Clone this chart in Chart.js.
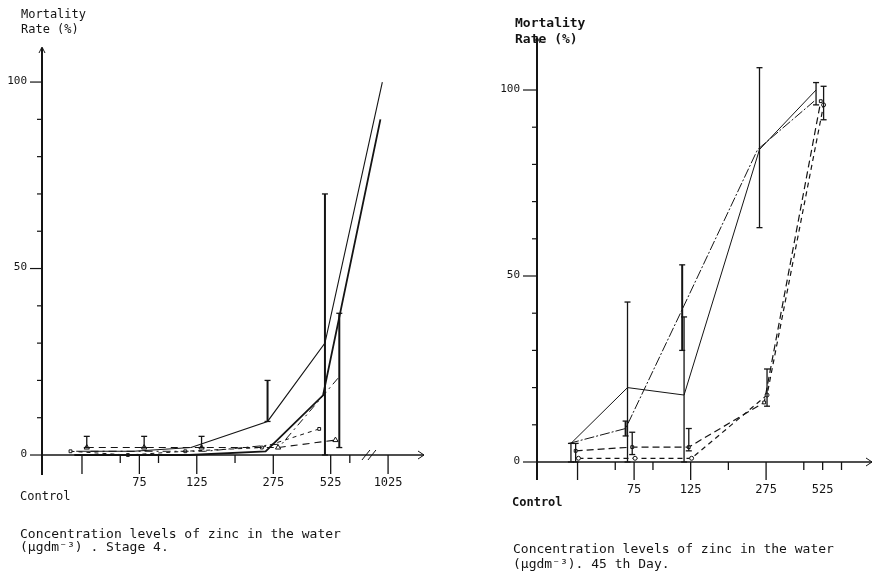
<!DOCTYPE html>
<html><head><meta charset="utf-8">
<script src="https://cdn.jsdelivr.net/npm/chart.js@4.4.1/dist/chart.umd.min.js"></script>
<style>
html,body{margin:0;padding:0;background:#fff;}
body{width:878px;height:575px;position:relative;overflow:hidden;}
.panel{position:absolute;top:0;height:575px;}
</style></head><body>
<div class="panel" style="left:0;width:440px"><canvas id="stage4"></canvas></div>
<div class="panel" style="left:440px;width:438px"><canvas id="day45"></canvas></div>
<script>
// ---------- data (mortality %) ----------
const stage4Categories = ['Control', '75', '125', '275', '525', '1025'];
const stage4SolidA   = [1, 1, 2, 9, 30, 100];
const stage4SolidB   = [0, 0, 0, 1, 16, 90];
const stage4DashedC  = [2, 2, 2, 2, 4, null];
const stage4DashDotD = [1, 1, 1, 3, 21, null];
const stage4DashedE  = [1, 0, 1, 2, 7, null];
const stage4ErrA = [null, null, null, [9, 20], [0, 70], null];
const stage4ErrC = [[2, 5], [2, 5], [2, 5], null, null, null];
const stage4ErrD = [null, null, null, null, [2, 38], null];

const day45Categories = ['Control', '75', '125', '275', '525'];
const day45SolidA  = [5, 20, 18, 84, 100];
const day45SolidB  = [5, 9, 41, 84, 97];
const day45DashedC = [3, 4, 4, 16, 97];
const day45DashedD = [1, 1, 1, 18, 96];
const day45ErrA = [[0, 5], [0, 43], [0, 39], [63, 106], [96, 102]];
const day45ErrB = [null, [7, 11], [30, 53], null, null];
const day45ErrC = [[0, 5], [2, 8], [3, 9], null, null];
const day45ErrD = [null, null, null, [15, 25], [92, 101]];

const mortalityTickLabels = [0, 50, 100];
const yAxisTitle = ['Mortality', 'Rate (%)'];
const stage4Caption = ['Concentration levels of zinc in the water', '(\u00b5gdm\u207b\u00b3) . Stage 4.'];
const day45Caption  = ['Concentration levels of zinc in the water', '(\u00b5gdm\u207b\u00b3). 45 th Day.'];

// ---------- layout / style ----------
const INK = '#141414';
const MONO = '"DejaVu Sans Mono", "Liberation Mono", monospace';
// axis slot of each concentration (broken, non-proportional axis)
const axisSlots = [0, 3, 6, 10, 13, 16];

function makePanel(canvasId, cfg) {
  const datasets = cfg.series.map(s => ({
    label: s.label,
    data: s.values.map((v, i) => v == null ? null : {x: axisSlots[i] + s.offset, y: v}).filter(Boolean),
    borderColor: INK,
    backgroundColor: '#fff',
    borderWidth: s.width || 1,
    borderDash: s.dash || [],
    pointStyle: s.pointStyle || 'circle',
    pointRadius: s.pointRadius || 0,
    pointBorderColor: INK,
    pointBorderWidth: 1,
    pointBackgroundColor: '#fff',
    tension: 0,
    fill: false
  }));

  const plugin = {
    id: 'handAxes_' + canvasId,
    beforeDatasetsDraw(chart) {
      const {ctx, chartArea: ca, scales: {x, y}} = chart;
      const ax = ca.left, y0 = y.getPixelForValue(0);
      ctx.save();
      ctx.strokeStyle = INK; ctx.fillStyle = INK;
      // y axis
      ctx.lineWidth = 2;
      ctx.beginPath(); ctx.moveTo(ax, ca.bottom); ctx.lineTo(ax, ca.top + 1); ctx.stroke();
      ctx.lineWidth = 1;
      ctx.beginPath(); ctx.moveTo(ax - 3, ca.top + 6); ctx.lineTo(ax, ca.top); ctx.lineTo(ax + 3, ca.top + 6); ctx.stroke();
      // y minor ticks every 10
      ctx.lineWidth = 1.2;
      for (let v = 10; v < 100; v += 10) {
        if (v === 50) continue;
        const py = y.getPixelForValue(v);
        ctx.beginPath(); ctx.moveTo(ax - 5, py); ctx.lineTo(ax, py); ctx.stroke();
      }
      // y major ticks + labels
      ctx.font = cfg.yTickFont + ' ' + MONO;
      ctx.textAlign = 'right'; ctx.textBaseline = 'middle';
      mortalityTickLabels.forEach(v => {
        const py = y.getPixelForValue(v);
        ctx.beginPath(); ctx.moveTo(ax - cfg.majorTick, py); ctx.lineTo(ax, py); ctx.stroke();
        ctx.fillText(String(v), ax - cfg.majorTick - 3, py - 1);
      });
      // x axis
      ctx.lineWidth = 1.3;
      ctx.beginPath(); ctx.moveTo(ax, y0); ctx.lineTo(ca.right - 1, y0); ctx.stroke();
      ctx.lineWidth = 1;
      ctx.beginPath(); ctx.moveTo(ca.right - 7, y0 - 4); ctx.lineTo(ca.right - 1, y0); ctx.lineTo(ca.right - 7, y0 + 4); ctx.stroke();
      // x ticks
      ctx.lineWidth = 1.3;
      cfg.longTicks.forEach(u => {
        const px = x.getPixelForValue(u);
        ctx.beginPath(); ctx.moveTo(px, y0); ctx.lineTo(px, y0 + cfg.longTickLen); ctx.stroke();
      });
      cfg.shortTicks.forEach(u => {
        const px = x.getPixelForValue(u);
        ctx.beginPath(); ctx.moveTo(px, y0); ctx.lineTo(px, y0 + 8); ctx.stroke();
      });
      // axis break marks
      if (cfg.breakAt != null) {
        const bx = x.getPixelForValue(cfg.breakAt);
        ctx.lineWidth = 1;
        [-3, 3].forEach(d => {
          ctx.beginPath(); ctx.moveTo(bx + d - 4, y0 + 5); ctx.lineTo(bx + d + 4, y0 - 5); ctx.stroke();
        });
      }
      // category labels
      ctx.font = cfg.xTickFont + ' ' + MONO;
      ctx.textBaseline = 'middle';
      cfg.categories.forEach((c, i) => {
        if (i === 0) {
          ctx.textAlign = 'left';
          ctx.font = cfg.controlFont + ' ' + MONO;
          ctx.fillText(c, cfg.controlX, y0 + cfg.controlDy);
          ctx.font = cfg.xTickFont + ' ' + MONO;
        } else {
          ctx.textAlign = 'center';
          ctx.fillText(c, x.getPixelForValue(axisSlots[i]), y0 + cfg.labelDy);
        }
      });
      // y axis title
      ctx.textAlign = 'left';
      ctx.font = cfg.titleFont + ' ' + MONO;
      yAxisTitle.forEach((t, i) => ctx.fillText(t, cfg.titleX, cfg.titleY + i * cfg.titleGap));
      // caption
      ctx.font = cfg.captionFont + ' ' + MONO;
      cfg.caption.forEach((t, i) => ctx.fillText(t, cfg.captionX, cfg.captionY + i * cfg.captionGap));
      ctx.restore();
    },
    afterDatasetsDraw(chart) {
      const {ctx, scales: {x, y}} = chart;
      ctx.save();
      ctx.strokeStyle = INK;
      cfg.series.forEach(s => {
        if (!s.err) return;
        s.err.forEach((e, i) => {
          if (!e) return;
          const px = x.getPixelForValue(axisSlots[i] + s.offset);
          const lo = y.getPixelForValue(e[0]), hi = y.getPixelForValue(e[1]);
          ctx.lineWidth = s.errWidth || 1.3;
          ctx.beginPath(); ctx.moveTo(px, lo); ctx.lineTo(px, hi); ctx.stroke();
          ctx.lineWidth = 1.3;
          ctx.beginPath(); ctx.moveTo(px - 3, hi); ctx.lineTo(px + 3, hi); ctx.stroke();
          ctx.beginPath(); ctx.moveTo(px - 3, lo); ctx.lineTo(px + 3, lo); ctx.stroke();
        });
      });
      ctx.restore();
    }
  };

  return new Chart(document.getElementById(canvasId), {
    type: 'line',
    data: {datasets},
    options: {
      responsive: true, maintainAspectRatio: false, animation: false,
      layout: {padding: cfg.padding},
      plugins: {legend: {display: false}, tooltip: {enabled: false}},
      scales: {
        x: {type: 'linear', display: false, min: cfg.xMin, max: cfg.xMax},
        y: {type: 'linear', display: false, min: cfg.yMin, max: cfg.yMax}
      }
    },
    plugins: [plugin]
  });
}

// Left panel: Stage 4
makePanel('stage4', {
  categories: stage4Categories,
  padding: {left: 42, right: 15, top: 47, bottom: 100},
  xMin: -2.09, xMax: 17.93, yMin: -5.36, yMax: 109.4,
  longTicks: [0, 3, 6, 10, 13, 16], shortTicks: [2, 4, 8, 14], longTickLen: 19,
  breakAt: 15.0, majorTick: 12,
  yTickFont: '11px', xTickFont: '12px', controlFont: '12px', titleFont: '12px', captionFont: '13px',
  controlX: 20, controlDy: 42, labelDy: 28,
  titleX: 21, titleY: 15, titleGap: 15,
  caption: stage4Caption, captionX: 20, captionY: 535, captionGap: 13,
  series: [
    {label: 'A', values: stage4SolidA, offset: -0.3, width: 1.1, err: stage4ErrA, errWidth: 2},
    {label: 'B', values: stage4SolidB, offset: -0.4, width: 1.8},
    {label: 'C', values: stage4DashedC, offset: 0.25, width: 1.1, dash: [7, 5], pointStyle: 'triangle', pointRadius: 3, err: stage4ErrC},
    {label: 'D', values: stage4DashDotD, offset: 0.45, width: 1, dash: [8, 4, 2, 4], err: stage4ErrD, errWidth: 2},
    {label: 'E', values: stage4DashedE, offset: -0.6, width: 1, dash: [4, 4], pointStyle: 'rect', pointRadius: 2}
  ]
});

// Right panel: 45th day
makePanel('day45', {
  categories: day45Categories,
  padding: {left: 97, right: 1, top: 37, bottom: 95},
  xMin: -2.15, xMax: 15.67, yMin: -4.84, yMax: 114.25,
  longTicks: [0, 3, 6, 10], shortTicks: [2, 4, 8, 12, 13, 14], longTickLen: 18,
  breakAt: null, majorTick: 14,
  yTickFont: '11px', xTickFont: '12px', controlFont: 'bold 12px', titleFont: 'bold 13px', captionFont: '13px',
  controlX: 72, controlDy: 41, labelDy: 28,
  titleX: 75, titleY: 24, titleGap: 16,
  caption: day45Caption, captionX: 73, captionY: 550, captionGap: 15,
  series: [
    {label: 'A', values: day45SolidA, offset: -0.35, width: 1, err: day45ErrA},
    {label: 'B', values: day45SolidB, offset: -0.45, width: 1, dash: [10, 2, 2, 2], err: day45ErrB, errWidth: 2},
    {label: 'C', values: day45DashedC, offset: -0.1, width: 1.2, dash: [7, 4], pointStyle: 'rect', pointRadius: 2, err: day45ErrC},
    {label: 'D', values: day45DashedD, offset: 0.05, width: 1.2, dash: [5, 4], pointRadius: 2, err: day45ErrD}
  ]
});
</script>
</body></html>
